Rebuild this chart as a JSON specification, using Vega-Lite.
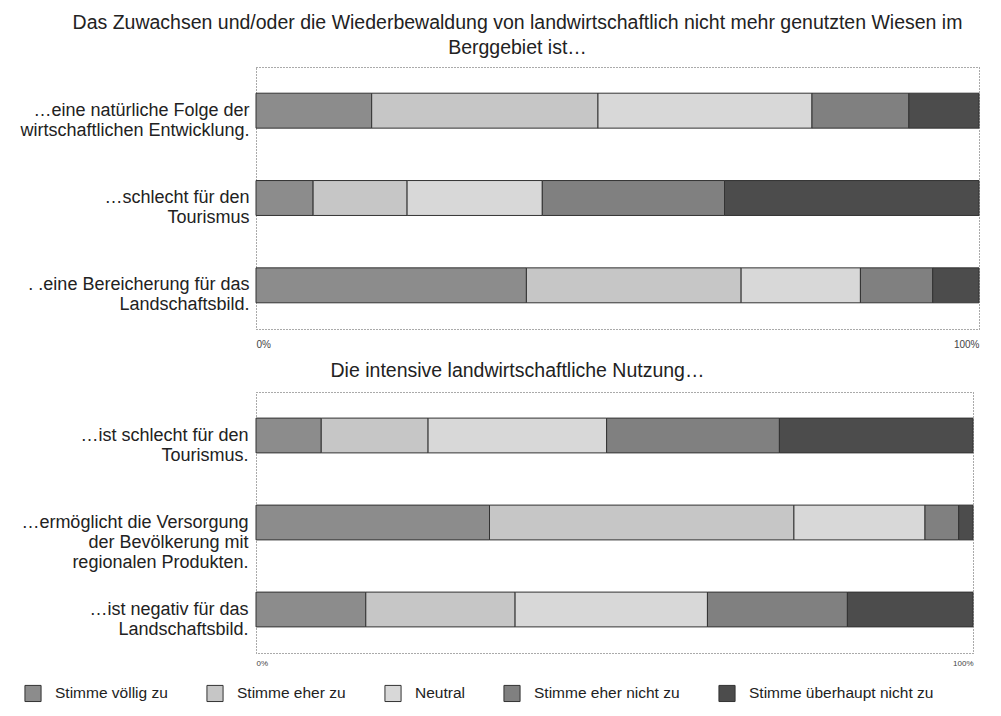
{
  "$schema": "https://vega.github.io/schema/vega-lite/v6.json",
  "padding": {"top": 12, "left": 5, "right": 10, "bottom": 5},
  "background": "white",
  "config": {
    "font": "Liberation Sans",
    "view": {"stroke": "#555", "strokeDash": [1, 2], "strokeWidth": 1},
    "title": {"fontSize": 19.5, "fontWeight": "normal", "color": "#222", "font": "Liberation Sans", "lineHeight": 25},
    "axis": {"labelFont": "Liberation Sans", "labelColor": "#333"}
  },
  "data": {
    "values": [
      {"panel": 1, "qo": 1, "q": "…eine natürliche Folge der|wirtschaftlichen Entwicklung.", "cat": "Stimme völlig zu", "o": 1, "v": 16.0},
      {"panel": 1, "qo": 1, "q": "…eine natürliche Folge der|wirtschaftlichen Entwicklung.", "cat": "Stimme eher zu", "o": 2, "v": 31.3},
      {"panel": 1, "qo": 1, "q": "…eine natürliche Folge der|wirtschaftlichen Entwicklung.", "cat": "Neutral", "o": 3, "v": 29.6},
      {"panel": 1, "qo": 1, "q": "…eine natürliche Folge der|wirtschaftlichen Entwicklung.", "cat": "Stimme eher nicht zu", "o": 4, "v": 13.4},
      {"panel": 1, "qo": 1, "q": "…eine natürliche Folge der|wirtschaftlichen Entwicklung.", "cat": "Stimme überhaupt nicht zu", "o": 5, "v": 9.7},
      {"panel": 1, "qo": 2, "q": "…schlecht für den|Tourismus", "cat": "Stimme völlig zu", "o": 1, "v": 7.9},
      {"panel": 1, "qo": 2, "q": "…schlecht für den|Tourismus", "cat": "Stimme eher zu", "o": 2, "v": 13.0},
      {"panel": 1, "qo": 2, "q": "…schlecht für den|Tourismus", "cat": "Neutral", "o": 3, "v": 18.7},
      {"panel": 1, "qo": 2, "q": "…schlecht für den|Tourismus", "cat": "Stimme eher nicht zu", "o": 4, "v": 25.2},
      {"panel": 1, "qo": 2, "q": "…schlecht für den|Tourismus", "cat": "Stimme überhaupt nicht zu", "o": 5, "v": 35.2},
      {"panel": 1, "qo": 3, "q": ". .eine Bereicherung für das|Landschaftsbild.", "cat": "Stimme völlig zu", "o": 1, "v": 37.4},
      {"panel": 1, "qo": 3, "q": ". .eine Bereicherung für das|Landschaftsbild.", "cat": "Stimme eher zu", "o": 2, "v": 29.7},
      {"panel": 1, "qo": 3, "q": ". .eine Bereicherung für das|Landschaftsbild.", "cat": "Neutral", "o": 3, "v": 16.5},
      {"panel": 1, "qo": 3, "q": ". .eine Bereicherung für das|Landschaftsbild.", "cat": "Stimme eher nicht zu", "o": 4, "v": 10.0},
      {"panel": 1, "qo": 3, "q": ". .eine Bereicherung für das|Landschaftsbild.", "cat": "Stimme überhaupt nicht zu", "o": 5, "v": 6.4},
      {"panel": 2, "qo": 1, "q": "…ist schlecht für den|Tourismus.", "cat": "Stimme völlig zu", "o": 1, "v": 9.1},
      {"panel": 2, "qo": 1, "q": "…ist schlecht für den|Tourismus.", "cat": "Stimme eher zu", "o": 2, "v": 14.9},
      {"panel": 2, "qo": 1, "q": "…ist schlecht für den|Tourismus.", "cat": "Neutral", "o": 3, "v": 24.9},
      {"panel": 2, "qo": 1, "q": "…ist schlecht für den|Tourismus.", "cat": "Stimme eher nicht zu", "o": 4, "v": 24.1},
      {"panel": 2, "qo": 1, "q": "…ist schlecht für den|Tourismus.", "cat": "Stimme überhaupt nicht zu", "o": 5, "v": 27.0},
      {"panel": 2, "qo": 2, "q": "…ermöglicht die Versorgung|der Bevölkerung mit|regionalen Produkten.", "cat": "Stimme völlig zu", "o": 1, "v": 32.6},
      {"panel": 2, "qo": 2, "q": "…ermöglicht die Versorgung|der Bevölkerung mit|regionalen Produkten.", "cat": "Stimme eher zu", "o": 2, "v": 42.5},
      {"panel": 2, "qo": 2, "q": "…ermöglicht die Versorgung|der Bevölkerung mit|regionalen Produkten.", "cat": "Neutral", "o": 3, "v": 18.3},
      {"panel": 2, "qo": 2, "q": "…ermöglicht die Versorgung|der Bevölkerung mit|regionalen Produkten.", "cat": "Stimme eher nicht zu", "o": 4, "v": 4.7},
      {"panel": 2, "qo": 2, "q": "…ermöglicht die Versorgung|der Bevölkerung mit|regionalen Produkten.", "cat": "Stimme überhaupt nicht zu", "o": 5, "v": 2.0},
      {"panel": 2, "qo": 3, "q": "…ist negativ für das|Landschaftsbild.", "cat": "Stimme völlig zu", "o": 1, "v": 15.3},
      {"panel": 2, "qo": 3, "q": "…ist negativ für das|Landschaftsbild.", "cat": "Stimme eher zu", "o": 2, "v": 20.8},
      {"panel": 2, "qo": 3, "q": "…ist negativ für das|Landschaftsbild.", "cat": "Neutral", "o": 3, "v": 26.8},
      {"panel": 2, "qo": 3, "q": "…ist negativ für das|Landschaftsbild.", "cat": "Stimme eher nicht zu", "o": 4, "v": 19.5},
      {"panel": 2, "qo": 3, "q": "…ist negativ für das|Landschaftsbild.", "cat": "Stimme überhaupt nicht zu", "o": 5, "v": 17.5}
    ]
  },
  "spacing": 10,
  "vconcat": [
    {
      "title": {"text": ["Das Zuwachsen und/oder die Wiederbewaldung von landwirtschaftlich nicht mehr genutzten Wiesen im", "Berggebiet ist…"], "dx": -100, "offset": 9},
      "width": 723,
      "height": 262,
      "transform": [{"filter": "datum.panel == 1"}],
      "mark": {"type": "bar", "stroke": "#333", "strokeWidth": 1},
      "encoding": {
        "y": {"field": "q", "type": "nominal", "sort": {"field": "qo"}, "title": null,
              "scale": {"paddingInner": 0.6, "paddingOuter": 0.3},
              "axis": {"labelExpr": "split(datum.label, '|')", "labelFontSize": 18, "labelLineHeight": 20, "ticks": false, "domain": false, "labelPadding": 7, "labelLimit": 300, "labelColor": "#222", "minExtent": 250, "maxExtent": 250}},
        "x": {"field": "v", "type": "quantitative", "stack": "normalize", "title": null,
              "axis": {"values": [0, 1], "format": "%", "labelFontSize": 10, "ticks": false, "domain": false, "grid": false, "labelPadding": 10, "labelColor": "#444"}},
        "color": {"field": "cat", "type": "nominal", "title": null,
                  "scale": {"domain": ["Stimme völlig zu", "Stimme eher zu", "Neutral", "Stimme eher nicht zu", "Stimme überhaupt nicht zu"],
                            "range": ["#8c8c8c", "#c6c6c6", "#d8d8d8", "#808080", "#4c4c4c"]}},
        "order": {"field": "o", "type": "quantitative"}
      }
    },
    {
      "title": {"text": "Die intensive landwirtschaftliche Nutzung…", "dx": -97, "offset": 11},
      "width": 717,
      "height": 261,
      "transform": [{"filter": "datum.panel == 2"}],
      "mark": {"type": "bar", "stroke": "#333", "strokeWidth": 1},
      "encoding": {
        "y": {"field": "q", "type": "nominal", "sort": {"field": "qo"}, "title": null,
              "scale": {"paddingInner": 0.6, "paddingOuter": 0.3},
              "axis": {"labelExpr": "split(datum.label, '|')", "labelFontSize": 18, "labelLineHeight": 20, "ticks": false, "domain": false, "labelPadding": 8, "labelLimit": 300, "labelColor": "#222", "minExtent": 250, "maxExtent": 250}},
        "x": {"field": "v", "type": "quantitative", "stack": "normalize", "title": null,
              "axis": {"values": [0, 1], "format": "%", "labelFontSize": 8, "ticks": false, "domain": false, "grid": false, "labelPadding": 6, "labelColor": "#444"}},
        "color": {"field": "cat", "type": "nominal", "title": null,
                  "scale": {"domain": ["Stimme völlig zu", "Stimme eher zu", "Neutral", "Stimme eher nicht zu", "Stimme überhaupt nicht zu"],
                            "range": ["#8c8c8c", "#c6c6c6", "#d8d8d8", "#808080", "#4c4c4c"]},
                  "legend": {"orient": "none", "legendX": -232, "legendY": 617, "direction": "horizontal", "symbolType": "square", "symbolSize": 260, "symbolStrokeColor": "#444", "symbolStrokeWidth": 1, "labelFontSize": 15.5, "labelColor": "#222", "labelLimit": 300, "columnPadding": 36, "labelOffset": 13}},
        "order": {"field": "o", "type": "quantitative"}
      }
    }
  ]
}
